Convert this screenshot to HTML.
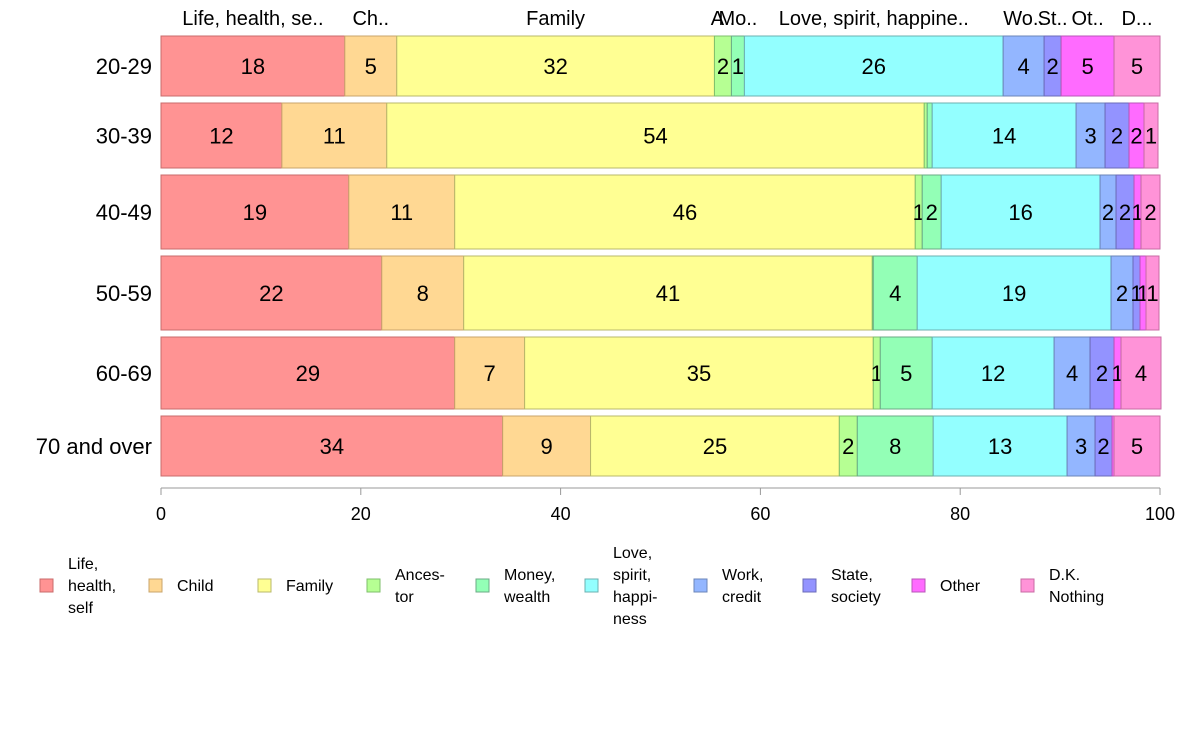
<!DOCTYPE html>
<html><head><meta charset="utf-8"><style>
body{margin:0;background:#fff;font-family:"Liberation Sans",sans-serif;}
svg text{font-family:"Liberation Sans",sans-serif;}
</style></head><body>
<svg id="chart" width="1188" height="736" xmlns="http://www.w3.org/2000/svg"></svg>
<script>
const categories = ["Life, health, self","Child","Family","Ancestor","Money, wealth","Love, spirit, happiness","Work, credit","State, society","Other","D.K. Nothing"];
const topLabels = ["Life, health, se..","Ch..","Family","A..","Mo..","Love, spirit, happine..","Wo..","St..","Ot..","D..."];
const legendLines = [["Life,","health,","self"],["Child"],["Family"],["Ances-","tor"],["Money,","wealth"],["Love,","spirit,","happi-","ness"],["Work,","credit"],["State,","society"],["Other"],["D.K.","Nothing"]];
const ageGroups = ["20-29","30-39","40-49","50-59","60-69","70 and over"];
const row2029 = [18.4,5.2,31.8,1.7,1.3,25.9,4.1,1.7,5.3,4.6];
const row3039 = [12.1,10.5,53.8,0.3,0.5,14.4,2.9,2.4,1.5,1.4];
const row4049 = [18.8,10.6,46.1,0.7,1.9,15.9,1.6,1.8,0.7,1.9];
const row5059 = [22.1,8.2,40.9,0.1,4.4,19.4,2.2,0.7,0.6,1.3];
const row6069 = [29.4,7.0,34.9,0.7,5.2,12.2,3.6,2.4,0.7,4.0];
const row70 = [34.2,8.8,24.9,1.8,7.6,13.4,2.8,1.7,0.2,4.6];
const xTicks = [0,20,40,60,80,100];
const rows = [row2029,row3039,row4049,row5059,row6069,row70];
const fills = ["#FF9393","#FFD893","#FFFF93","#B6FF93","#93FFB6","#93FFFF","#93B6FF","#9393FF","#FF6BFF","#FF93D8"];
const strokes = ["#c86b6b","#c8a46b","#b8b86b","#7fbf6b","#6bab85","#6bb0b0","#6b85b8","#6b6bb8","#b855b8","#c86ba4"];
const bands = [[36,96],[103,168],[175,249],[256,330],[337,409],[416,476]];
const X0=161,X1=1160;
const sx = v => X0 + (X1-X0)*v/100;
const svg = document.getElementById('chart');
const NS="http://www.w3.org/2000/svg";
function mk(tag, attrs, txt){const e=document.createElementNS(NS,tag);for(const k in attrs)e.setAttribute(k,attrs[k]);if(txt!==undefined)e.textContent=txt;svg.appendChild(e);return e;}
rows.forEach((vals,r)=>{
  const [y0,y1]=bands[r];
  let cum=0;
  vals.forEach((v,c)=>{
    const xa=sx(cum), xb=sx(cum+v);
    const rect=mk('rect',{x:xa,y:y0,width:Math.max(xb-xa,0),height:y1-y0,fill:fills[c],stroke:strokes[c],'stroke-width':1});
    
    
    if(v>=0.6){
      const t=mk('text',{x:(xa+xb)/2,y:(y0+y1)/2+8,'text-anchor':'middle','font-size':22,fill:'#000'},String(Math.round(v)));
      
      
    }
    if(r===0){
      const t=mk('text',{x:(xa+xb)/2,y:25,'text-anchor':'middle','font-size':20,fill:'#000'},topLabels[c]);
      
      
    }
    cum+=v;
  });
  const rl=mk('text',{x:152,y:(y0+y1)/2+8,'text-anchor':'end','font-size':22,fill:'#000'},ageGroups[r]);
  
  
});
const ax=mk('line',{x1:X0,x2:X1,y1:488,y2:488,stroke:'#999','stroke-width':1});


xTicks.forEach(t=>{
  const l=mk('line',{x1:sx(t),x2:sx(t),y1:488,y2:495,stroke:'#999'});
  
  
  const tx=mk('text',{x:sx(t),y:520,'text-anchor':'middle','font-size':18,fill:'#000'},String(t));
  
  
});
categories.forEach((c,i)=>{
  const x=40+109*i;
  const s=mk('rect',{x:x,y:579,width:13,height:13,fill:fills[i],stroke:strokes[i]});
  
  
  const lines=legendLines[i];
  const n=lines.length;
  lines.forEach((ln,j)=>{
    const t=mk('text',{x:x+28,y:591+(j-(n-1)/2)*22,'font-size':16,fill:'#000'},ln);
    
    
  });
});
</script>
</body></html>
